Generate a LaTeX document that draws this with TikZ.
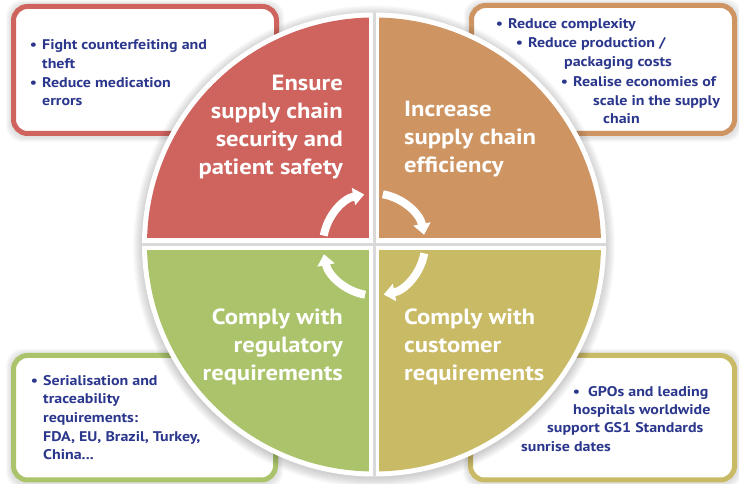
\documentclass[tikz,border=0pt]{standalone}
\usepackage{fontspec}
\setmainfont{PT Sans}
\newfontfamily\listfont[FakeStretch=1.14]{PT Sans}
\newfontfamily\goalfont[FakeStretch=1.12]{PT Sans}
\usetikzlibrary{arrows.meta}
\definecolor{secred}{RGB}{207,100,94}
\definecolor{efforange}{RGB}{206,149,99}
\definecolor{reggreen}{RGB}{171,196,108}
\definecolor{custolive}{RGB}{201,186,101}
\definecolor{gsblue}{RGB}{43,55,140}
\tikzset{
  panel/.style={line width=5pt, rounded corners=14pt, fill=white},
  bullettext/.style={anchor=base west, inner sep=0pt, text=gsblue,
    font=\listfont\bfseries\fontsize{14}{18.7}\selectfont, align=left},
  goaltext/.style={inner sep=0pt, text=white,
    font=\goalfont\bfseries\fontsize{22}{28.3}\selectfont},
  cyclearrow/.style={white, line width=8pt, -{Triangle[width=17pt,length=11pt]}}
}
\newcommand{\bul}{\llap{\textbullet\hspace{5pt}}}

\begin{document}
\begin{tikzpicture}[x=1pt,y=1pt]
        \useasboundingbox (0,0) rectangle (739,484);
        %%Shadows of the panels
        \foreach \xa/\ya/\xb/\yb in {13.5/350.5/276.5/477.5, 471.5/350.5/734.5/478.5,
            13.5/4/275.5/128.5, 470.5/4/734.5/128.5}{
          \foreach \s in {1,...,5}
            \fill[black, opacity=0.025, rounded corners=16pt]
            (\xa-2.5-\s,\ya-2.5-\s-1) rectangle (\xb+2.5+\s,\yb+2.5+\s-1);
        }
        %%Panels
        \draw[panel, draw=secred] (13.5,350.5) rectangle (276.5,477.5);
        \draw[panel, draw=efforange] (471.5,350.5) rectangle (734.5,478.5);
        \draw[panel, draw=reggreen] (13.5,4) rectangle (275.5,128.5);
        \draw[panel, draw=custolive] (470.5,4) rectangle (734.5,128.5);
        %%Panel texts
        \node[bullettext] (safetylist) at (42,378)
          {\bul Fight counterfeiting and\\theft\\\bul Reduce medication\\errors};
        \node[bullettext] (eff1) at (508,455) {\bul Reduce complexity};
        \node[bullettext] (eff2) at (528,436) {\bul Reduce production /};
        \node[bullettext] (eff3) at (564,417) {packaging costs};
        \node[bullettext] (eff4) at (573,397) {\bul Realise economies of};
        \node[bullettext] (eff5) at (593,378) {scale in the supply};
        \node[bullettext] (eff6) at (603,360) {chain};
        \node[bullettext] (reglist) at (43,24)
          {\bul Serialisation and\\traceability\\requirements:\\FDA, EU, Brazil, Turkey,\\China...};
        \node[bullettext] (cust1) at (588,87) {\llap{\textbullet\hspace{8pt}}GPOs and leading};
        \node[bullettext] (cust2) at (573,69) {hospitals worldwide};
        \node[bullettext] (cust3) at (547,51) {support GS1 Standards};
        \node[bullettext] (cust4) at (521,32) {sunrise dates};
        %%Circle
        \coordinate (c) at (374,239.5);
        \foreach \r in {1,...,10}
          \fill[black, opacity=0.018] ([yshift=-2pt]c) circle (231+\r);
        \fill[white] (c) circle (232);
        \begin{scope}
          \clip (c) circle (227);
          \fill[secred] (100,245.5) rectangle (369,484);
          \fill[efforange] (379,245.5) rectangle (650,484);
          \fill[reggreen] (100,0) rectangle (369,233.5);
          \fill[custolive] (379,0) rectangle (650,233.5);
        \end{scope}
        \draw[black!15, line width=3pt] (374,7.5) -- (374,471.5);
        \draw[black!15, line width=3pt] (142,239.5) -- (606,239.5);
        %%Circle texts
        \node[goaltext, align=right, anchor=base east] (security) at (343,309)
          {Ensure\\supply chain\\security and\\patient safety};
        \node[goaltext, align=left, anchor=base west] (efficiency) at (404,311)
          {Increase\\supply chain\\efficiency};
        \node[goaltext, align=right, anchor=base east] (regulatory) at (343,103)
          {Comply with\\regulatory\\requirements};
        \node[goaltext, align=left, anchor=base west] (customer) at (404,103)
          {Comply with\\customer\\requirements};
        %%Cycle arrows
        \draw[cyclearrow] ([shift={(170:51)}]c) arc[start angle=170, end angle=101, radius=51];
        \draw[cyclearrow] ([shift={(80:51)}]c) arc[start angle=80, end angle=11, radius=51];
        \draw[cyclearrow] ([shift={(-10:51)}]c) arc[start angle=-10, end angle=-79, radius=51];
        \draw[cyclearrow] ([shift={(-100:51)}]c) arc[start angle=-100, end angle=-169, radius=51];
\end{tikzpicture}
\end{document}
